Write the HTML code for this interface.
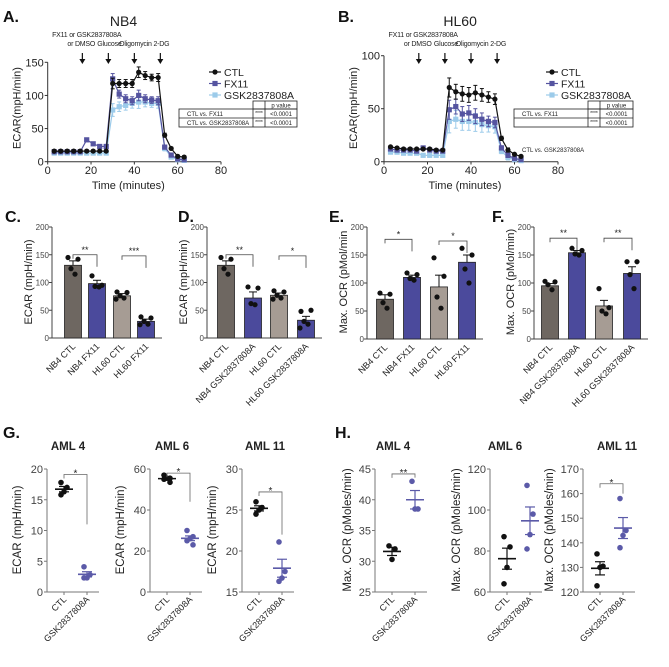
<!DOCTYPE html>
<html><head><meta charset="utf-8"><style>
body{margin:0;background:#fff;}
svg{display:block;font-family:"Liberation Sans",Arial,sans-serif;}
</style></head><body>
<svg id="fig" width="669" height="667" viewBox="0 0 669 667" xmlns="http://www.w3.org/2000/svg"></svg>
<script>
// ---------- data ----------
const times = [3,6,9,12,15,18,21,24,27,30,33,36,39,42,45,48,51,54,57,60,63];
const nb4Ctl = [16,16,16,16,16,16,16,16,16,118,118,118,118,135,130,127,127,40,20,8,7];
const nb4Fx = [15,15,15,15,15,33,27,23,23,125,102,95,92,100,95,93,92,22,10,4,3];
const nb4Gsk = [13,13,13,13,13,13,13,13,13,78,83,85,88,90,90,88,88,20,7,3,2];
const nb4Err = [2,2,2,2,2,2,2,2,2,8,6,6,6,8,6,5,6,3,2,2,2];
const hl60Ctl = [14,13,12,12,12,12,12,11,11,70,66,64,63,65,63,61,59,22,11,7,5];
const hl60Fx = [12,11,11,11,10,13,11,10,10,49,52,45,46,43,40,38,37,13,6,3,2];
const hl60Gsk = [9,9,8,8,8,6,6,6,6,38,40,38,38,37,35,34,33,10,4,2,1];
const hl60Err = [1,1,1,1,1,1,1,1,1,9,7,7,7,7,6,5,5,2,2,1,1];
const barCatsC = ["NB4 CTL","NB4 FX11","HL60 CTL","HL60 FX11"];
const barCatsD = ["NB4 CTL","NB4 GSK2837808A","HL60 CTL","HL60 GSK2837808A"];
const barC = [131,98,76,30];
const barCErr = [8,6,4,4];
const ptsC = [[145,142,125,115],[112,95,93,92],[83,82,76,72,70],[38,36,30,25,24]];
const barD = [131,72,77,32];
const barDErr = [8,11,4,7];
const ptsD = [[145,142,125,115],[92,90,62,60],[85,83,77,72,70],[48,50,30,25,18]];
const barE = [71,110,93,137];
const barEErr = [8,4,21,13];
const ptsE = [[82,80,65,55],[118,115,108,105],[145,112,75,55],[162,150,125,100]];
const barF = [95,154,59,117];
const barFErr = [4,4,10,12];
const ptsF = [[103,102,97,88],[162,158,152,150],[90,56,50,45],[138,138,115,90]];
const g4 = [[17.8,17.0,16.3,15.8],[4.1,2.8,2.3,2.3]];
const g6 = [[57,55.5,55.5,55,53.5],[30,27,26,25,23]];
const g11 = [[26,25.3,25,24.5],[21.1,17.5,16.7,16.3]];
const h4 = [[32.5,32,30.3],[43,38.5,38.5]];
const h6 = [[87,82,72,64],[112,98,88,81]];
const h11 = [[135.5,130.5,130,122.5],[158,145,143,138]];

// ---------- helpers ----------
const NS="http://www.w3.org/2000/svg";
const svg=document.getElementById('fig');
function el(tag,attrs,parent){const e=document.createElementNS(NS,tag);for(const k in attrs)e.setAttribute(k,attrs[k]);(parent||svg).appendChild(e);return e;}
function txt(s,x,y,size,opts,parent){opts=opts||{};const t=el('text',{x:x,y:y,'font-size':size,'text-anchor':opts.anchor||'middle',fill:opts.fill||'#222','font-weight':opts.bold?'bold':'normal'},parent);if(opts.rot!==undefined)t.setAttribute('transform','rotate('+opts.rot+' '+x+' '+y+')');if(opts.ls)t.setAttribute('letter-spacing',opts.ls);t.textContent=s;return t;}
function lin(x1,y1,x2,y2,c,w,parent){return el('line',{x1:x1,y1:y1,x2:x2,y2:y2,stroke:c||'#333','stroke-width':w||1},parent);}
function scale(d0,d1,r0,r1){return v=>r0+(v-d0)/(d1-d0)*(r1-r0);}
function mean(a){return a.reduce((s,v)=>s+v,0)/a.length;}
function sem(a){const m=mean(a);return Math.sqrt(a.reduce((s,v)=>s+(v-m)*(v-m),0)/(a.length-1))/Math.sqrt(a.length);}
const BLUE='#4b4a9c', DARK='#6e6761', LGRAY='#a69c94', LBLUE='#9ccbea', PT='#5b5aa8';

function letter(s,x,y){const t=txt(s,x,y,16,{anchor:'start',bold:true,fill:'#111'});

}

// ---------- time series ----------
function drawTS(cfg){
  const g=el('g',{});
  
  
  const xs=scale(0,80,cfg.x0,cfg.x1), ys=scale(0,cfg.ymax,161.7,cfg.ytop);
  lin(cfg.x0,161.7,cfg.x1,161.7,'#333',1,g);lin(cfg.x0,161.7,cfg.x0,ys(cfg.ymax),'#333',1,g);
  [0,20,40,60,80].forEach(v=>{lin(xs(v),161.7,xs(v),164.5,'#333',1,g);const t=txt(String(v),xs(v),174,11,{},g);});
  cfg.yt.forEach(v=>{lin(cfg.x0-3,ys(v),cfg.x0,ys(v),'#333',1,g);const t=txt(String(v),cfg.x0-4,ys(v)+4,11,{anchor:'end'},g);});
  const xt=txt('Time (minutes)',(cfg.x0+cfg.x1)/2-6,189,11,{},g);
  
  const yt=txt('ECAR(mpH/min)',cfg.x0-27,108,11,{rot:-90},g);
  
  const tt=txt(cfg.title,xs(35),26,14,{},g);
  
  const a1=txt('FX11 or GSK2837808A',xs(18),37,7,{ls:-0.2},g);
  [['or DMSO',15.5],['Glucose',28.5],['Oligomycin',40.5],['2-DG',52.5]].forEach(a=>{const t=txt(a[0],xs(a[1]),46,7,{ls:-0.2},g);});
  [16,28,40,52].forEach(tv=>{const x=xs(tv);lin(x,53,x,61,'#111',1.2,g);const p=el('path',{d:'M'+(x-3)+' 59 L'+(x+3)+' 59 L'+x+' 64 Z',fill:'#111'},g);});
  const series=[[cfg.gsk,LBLUE,'square','gsk'],[cfg.fx,'#5554a0','square','fx11'],[cfg.ctl,'#111','circle','ctl']];
  series.forEach(s=>{
    const pts=times.map((t,i)=>xs(t)+','+ys(s[0][i])).join(' ');
    const pl=el('polyline',{points:pts,fill:'none',stroke:s[1],'stroke-width':1.2},g);
    
    times.forEach((t,i)=>{const x=xs(t),y=ys(s[0][i]),e=cfg.err[i]*(s[3]==='gsk'?1.2:1)*(ys(0)-ys(1));
      lin(x,y-e,x,y+e,s[1],1,g);lin(x-2,y-e,x+2,y-e,s[1],1,g);lin(x-2,y+e,x+2,y+e,s[1],1,g);
      let m;if(s[2]==='circle')m=el('circle',{cx:x,cy:y,r:2.6,fill:s[1]},g);else m=el('rect',{x:x-2.6,y:y-2.6,width:5.2,height:5.2,fill:s[1]},g);
      });
  });
  const lx=cfg.lx;
  [['CTL','#111','circle'],['FX11','#5554a0','sq'],['GSK2837808A',LBLUE,'sq']].forEach((l,i)=>{
    const y=72+i*11.5;lin(lx-6,y,lx+6,y,l[1],1.2,g);
    if(l[2]==='circle')el('circle',{cx:lx,cy:y,r:2.6,fill:l[1]},g);else el('rect',{x:lx-2.6,y:y-2.6,width:5.2,height:5.2,fill:l[1]},g);
    const t=txt(l[0],lx+9,y+4,10.5,{anchor:'start'},g);});
  const T=cfg.tab;
  const tb=el('g',{},g);
  el('rect',{x:T[1],y:101,width:T[3]-T[1],height:8,fill:'none',stroke:'#222','stroke-width':0.8},tb);
  el('rect',{x:T[0],y:109,width:T[3]-T[0],height:18,fill:'none',stroke:'#222','stroke-width':0.8},tb);
  lin(T[0],118,T[3],118,'#222',0.8,tb);lin(T[1],109,T[1],127,'#222',0.8,tb);lin(T[2],101,T[2],127,'#222',0.8,tb);
  txt('p value',(T[2]+T[3])/2,107.5,6,{},tb);
  cfg.rows.forEach((r,i)=>{const y=116+i*9;txt(r,T[0]+8,y,6,{anchor:'start'},tb);txt('****',(T[1]+T[2])/2,y-1,5,{},tb);txt('<0.0001',(T[2]+T[3])/2,y,6,{},tb);});
}
drawTS({name:'chart-nb4-ecar',title:'NB4',x0:47.7,x1:221,ymax:150,ytop:62.3,yt:[0,50,100,150],ctl:nb4Ctl,fx:nb4Fx,gsk:nb4Gsk,err:nb4Err,lx:215,tab:[179,253,265,297],rows:['CTL vs. FX11','CTL vs. GSK2837808A']});
drawTS({name:'chart-hl60-ecar',title:'HL60',x0:384,x1:558,ymax:100,ytop:55.7,yt:[0,50,100],ctl:hl60Ctl,fx:hl60Fx,gsk:hl60Gsk,err:hl60Err,lx:552,tab:[514,588,600,633],rows:['CTL vs. FX11','']});
{const t=txt('CTL vs. GSK2837808A',522,152,6,{anchor:'start'});}
letter('A.',3,22);letter('B.',338,22);

// ---------- bar charts ----------
function drawBars(cfg){
  const g=el('g',{});
  
  
  const ys=scale(0,200,cfg.y0,227);
  const axEnd=cfg.cx[3]+16;
  lin(cfg.ax,cfg.y0,axEnd,cfg.y0,'#444',1,g);lin(cfg.ax,cfg.y0,cfg.ax,227,'#444',1,g);
  [0,50,100,150,200].forEach(v=>{lin(cfg.ax-3,ys(v),cfg.ax,ys(v),'#444',1,g);const t=txt(String(v),cfg.ax-3,ys(v)+3,8,{anchor:'end',fill:'#444'},g);});
  const yt=txt(cfg.ylab,cfg.ax-20,282,11,{rot:-90},g);
  
  const cols=[DARK,BLUE,LGRAY,BLUE];
  cfg.vals.forEach((v,i)=>{const x=cfg.cx[i];
    const r=el('rect',{x:x-8.5,y:ys(v),width:17,height:cfg.y0-ys(v),fill:cols[i],stroke:'#222','stroke-width':0.8},g);
    
    const e=cfg.err[i];lin(x,ys(v+e),x,ys(v),'#111',1,g);lin(x-4,ys(v+e),x+4,ys(v+e),'#111',1,g);
    cfg.pts[i].forEach((p,j)=>{const off=[-5,5,-2,2,-6][j%5];const c=el('circle',{cx:x+off,cy:ys(p),r:2.6,fill:'#111'},g);});
    const t=txt(cfg.cats[i],x+3,cfg.y0+9,9,{anchor:'end',rot:-45},g);});
  cfg.sig.forEach(s=>{const y=ys(s[2]);const a=cfg.cx[s[0]],b=cfg.cx[s[1]];
    el('path',{d:'M'+a+' '+(y+4)+' L'+a+' '+y+' L'+b+' '+y+' L'+b+' '+(y+12),fill:'none',stroke:'#444','stroke-width':0.8},g);
    const t=txt(s[3],(a+b)/2,y-2,9,{},g);});
}
drawBars({name:'chart-c-ecar-fx11',ax:52,y0:338,cx:[73,97,122,146],cats:barCatsC,vals:barC,err:barCErr,pts:ptsC,ylab:'ECAR (mpH/min)',sig:[[0,1,150,'**'],[2,3,148,'***']]});
drawBars({name:'chart-d-ecar-gsk',ax:207,y0:338,cx:[226,253,279,306],cats:barCatsD,vals:barD,err:barDErr,pts:ptsD,ylab:'ECAR (mpH/min)',sig:[[0,1,150,'**'],[2,3,148,'*']]});
drawBars({name:'chart-e-ocr-fx11',ax:367,y0:339,cx:[385,412,439,467],cats:barCatsC,vals:barE,err:barEErr,pts:ptsE,ylab:'Max. OCR (pMol/min',sig:[[0,1,178,'*'],[2,3,175,'*']]});
drawBars({name:'chart-f-ocr-gsk',ax:534,y0:339,cx:[550,577,604,632],cats:barCatsD,vals:barF,err:barFErr,pts:ptsF,ylab:'Max. OCR (pMol/min)',sig:[[0,1,180,'**'],[2,3,180,'**']]});
letter('C.',5,222);letter('D.',178,222);letter('E.',329,222);letter('F.',492,222);

// ---------- scatter panels ----------
function drawDot(cfg){
  const g=el('g',{});
  
  
  const ys=scale(cfg.min,cfg.max,592,469);
  lin(cfg.ax,592,cfg.ax+52,592,'#777',1,g);lin(cfg.ax,592,cfg.ax,469,'#777',1,g);
  cfg.ticks.forEach(v=>{lin(cfg.ax-3,ys(v),cfg.ax,ys(v),'#777',1,g);const t=txt(String(v),cfg.ax-4,ys(v)+4,11,{anchor:'end',fill:'#444'},g);});
  const yt=txt(cfg.ylab,cfg.ax-cfg.lo,530,11.5,{rot:-90},g);
  
  const tt=txt(cfg.title,cfg.tx,450,11.5,{bold:true},g);
  
  const px=[cfg.ax+17,cfg.ax+40];
  ['CTL','GSK2837808A'].forEach((c,i)=>{lin(px[i],592,px[i],595,'#777',1,g);const t=txt(c,px[i]+3,600,9,{anchor:'end',rot:-45},g);});
  const cols=['#111',PT];
  cfg.d.forEach((arr,i)=>{const x=px[i];
    arr.forEach((v,j)=>{const off=[-3,3,0,-3,3][j%5];const c=el('circle',{cx:x+off,cy:ys(v),r:2.8,fill:cols[i]},g);});
    const m=mean(arr),s=sem(arr);
    lin(x-9,ys(m),x+9,ys(m),cols[i],1.6,g);lin(x,ys(m-s),x,ys(m+s),cols[i],1.2,g);
    lin(x-5,ys(m-s),x+5,ys(m-s),cols[i],1.2,g);lin(x-5,ys(m+s),x+5,ys(m+s),cols[i],1.2,g);});
  if(cfg.sig){const y=ys(cfg.sig[0]);el('path',{d:'M'+px[0]+' '+(y+4)+' L'+px[0]+' '+y+' L'+px[1]+' '+y+' L'+px[1]+' '+ys(cfg.sig[1]),fill:'none',stroke:'#666','stroke-width':0.8},g);
    const t=txt(cfg.sig[2],(px[0]+px[1])/2,y+2,10,{},g);}
}
drawDot({name:'chart-g-aml4',ax:47,min:0,max:20,ticks:[0,5,10,15,20],d:g4,ylab:'ECAR (mpH/min)',lo:26,title:'AML 4',tx:68,sig:[19.1,11,'*']});
drawDot({name:'chart-g-aml6',ax:150,min:0,max:60,ticks:[0,20,40,60],d:g6,ylab:'ECAR (mpH/min)',lo:26,title:'AML 6',tx:172,sig:[58,44,'*']});
drawDot({name:'chart-g-aml11',ax:242,min:15,max:30,ticks:[15,20,25,30],d:g11,ylab:'ECAR (mpH/min)',lo:26,title:'AML 11',tx:265,sig:[27.2,22,'*']});
drawDot({name:'chart-h-aml4',ax:375,min:25,max:45,ticks:[25,30,35,40,45],d:h4,ylab:'Max. OCR (pMoles/min)',lo:24,title:'AML 4',tx:393,sig:[44.2,43.6,'**']});
drawDot({name:'chart-h-aml6',ax:490,min:60,max:120,ticks:[60,80,100,120],d:h6,ylab:'Max. OCR (pMoles/min)',lo:30,title:'AML 6',tx:505,sig:null});
drawDot({name:'chart-h-aml11',ax:583,min:120,max:170,ticks:[120,130,140,150,160,170],d:h11,ylab:'Max. OCR (pMoles/min)',lo:30,title:'AML 11',tx:617,sig:[164,160,'*']});
letter('G.',3,438);letter('H.',335,438);
</script>
</body></html>
